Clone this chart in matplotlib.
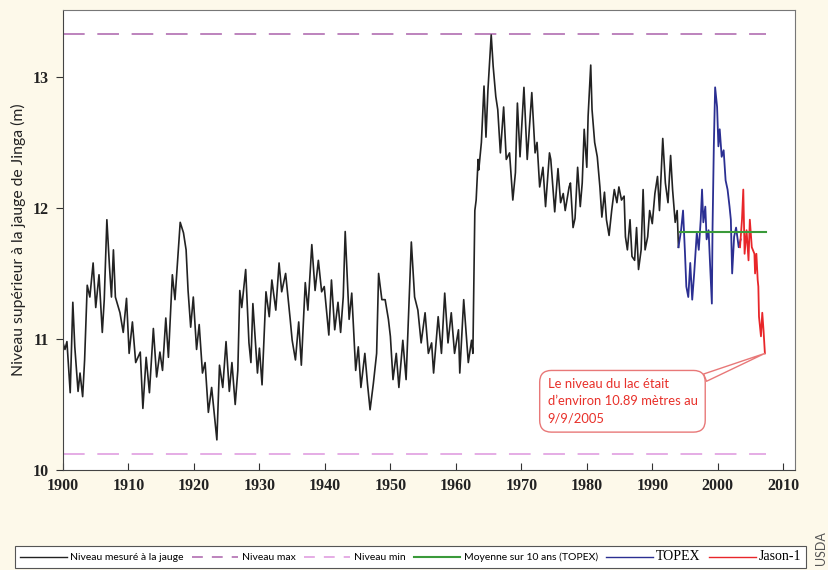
import matplotlib
matplotlib.use("Agg")
import matplotlib.pyplot as plt
from matplotlib.lines import Line2D

plt.rcParams['font.family'] = ['Lato', 'DejaVu Sans']

# niveau mesuré à la jauge
jauge_annees = [
    1900.0, 1900.3, 1900.6, 1901.1, 1901.5, 1901.8, 1902.3, 1902.6, 1903.0, 1903.3,
    1903.7, 1904.1, 1904.6, 1905.0, 1905.5, 1906.0, 1906.3, 1906.7, 1907.1, 1907.4,
    1907.7, 1908.0, 1908.7, 1909.2, 1909.7, 1910.1, 1910.6, 1911.1, 1911.8, 1912.2,
    1912.7, 1913.2, 1913.8, 1914.3, 1914.8, 1915.2, 1915.7, 1916.1, 1916.7, 1917.1,
    1917.9, 1918.4, 1918.8, 1919.1, 1919.5, 1919.9, 1920.4, 1920.8, 1921.3, 1921.7,
    1922.2, 1922.7, 1923.5, 1923.9, 1924.4, 1924.9, 1925.4, 1925.8, 1926.3, 1926.7,
    1927.0, 1927.3, 1927.9, 1928.4, 1928.7, 1929.0, 1929.7, 1930.0, 1930.4, 1931.0,
    1931.5, 1931.9, 1932.5, 1933.0, 1933.4, 1934.0, 1934.7, 1935.0, 1935.5, 1936.0,
    1936.4, 1937.0, 1937.4, 1938.0, 1938.5, 1939.0, 1939.5, 1939.9, 1940.6, 1941.0,
    1941.5, 1942.0, 1942.4, 1942.8, 1943.1, 1943.7, 1944.1, 1944.7, 1945.1, 1945.5,
    1946.1, 1946.5, 1946.9, 1947.4, 1947.9, 1948.2, 1948.7, 1949.2, 1949.7, 1950.0,
    1950.4, 1950.9, 1951.3, 1951.9, 1952.4, 1953.2, 1953.7, 1954.2, 1954.7, 1955.3,
    1955.8, 1956.3, 1956.6, 1957.3, 1957.8, 1958.3, 1958.8, 1959.3, 1959.8, 1960.4,
    1960.6, 1961.2, 1961.9, 1962.4, 1962.6, 1962.9, 1963.1, 1963.4, 1963.5, 1963.9,
    1964.3, 1964.6, 1964.9, 1965.4, 1965.7, 1966.1, 1966.4, 1966.8, 1967.3, 1967.7,
    1968.2, 1968.7, 1969.1, 1969.4, 1969.8, 1970.4, 1970.9, 1971.6, 1972.1, 1972.4,
    1972.8, 1973.3, 1973.7, 1974.3, 1974.5, 1975.1, 1975.6, 1976.0, 1976.4, 1976.7,
    1977.3, 1977.5, 1977.9, 1978.2, 1978.6, 1979.0, 1979.3, 1979.6, 1980.0, 1980.2,
    1980.6, 1980.8, 1981.2, 1981.6, 1982.0, 1982.3, 1982.7, 1983.0, 1983.4, 1983.8,
    1984.2, 1984.6, 1984.9, 1985.3, 1985.7, 1985.9, 1986.2, 1986.6, 1986.9, 1987.3,
    1987.6, 1987.9, 1988.3, 1988.6, 1988.9, 1989.3, 1989.6, 1990.0, 1990.4, 1990.8,
    1991.1, 1991.6, 1992.0, 1992.4, 1992.8, 1993.1, 1993.5, 1993.8, 1994.0,
]
jauge_niveaux = [
    10.97, 10.92, 10.98, 10.59, 11.28, 10.94, 10.60, 10.74, 10.56, 10.84,
    11.41, 11.32, 11.58, 11.24, 11.49, 11.05, 11.30, 11.91, 11.55, 11.32,
    11.68, 11.32, 11.20, 11.05, 11.31, 10.89, 11.13, 10.82, 10.90, 10.47,
    10.86, 10.59, 11.08, 10.71, 10.90, 10.76, 11.16, 10.86, 11.49, 11.30,
    11.89, 11.81, 11.68, 11.37, 11.09, 11.32, 10.92, 11.11, 10.74, 10.82,
    10.44, 10.63, 10.23, 10.80, 10.63, 10.98, 10.60, 10.82, 10.50, 10.76,
    11.37, 11.24, 11.53, 10.97, 10.82, 11.27, 10.74, 10.93, 10.65, 11.36,
    11.17, 11.45, 11.22, 11.58, 11.36, 11.50, 11.15, 10.99, 10.84, 11.13,
    10.80, 11.43, 11.22, 11.72, 11.37, 11.60, 11.36, 11.40, 11.03, 11.45,
    11.07, 11.28, 11.05, 11.32, 11.82, 11.15, 11.35, 10.76, 10.94, 10.63,
    10.89, 10.66, 10.46, 10.66, 10.89, 11.50, 11.30, 11.30, 11.15, 11.02,
    10.69, 10.89, 10.63, 10.99, 10.69, 11.74, 11.32, 11.22, 10.97, 11.20,
    10.89, 10.97, 10.74, 11.17, 10.89, 11.35, 10.97, 11.20, 10.89, 11.07,
    10.74, 11.30, 10.82, 10.99, 10.89, 11.98, 12.06, 12.37, 12.29, 12.50,
    12.93, 12.54, 12.90, 13.32, 13.08, 12.85, 12.75, 12.42, 12.77, 12.37,
    12.42, 12.06, 12.27, 12.80, 12.39, 12.92, 12.37, 12.88, 12.42, 12.50,
    12.16, 12.31, 12.01, 12.42, 12.37, 11.97, 12.30, 12.04, 12.11, 11.98,
    12.16, 12.19, 11.85, 11.92, 12.31, 12.01, 12.19, 12.60, 12.31, 12.70,
    13.09, 12.75, 12.50, 12.39, 12.16, 11.93, 12.12, 11.91, 11.79, 11.98,
    12.14, 12.04, 12.16, 12.06, 12.09, 11.78, 11.68, 11.91, 11.63, 11.60,
    11.85, 11.53, 11.68, 12.14, 11.68, 11.78, 11.98, 11.88, 12.11, 12.24,
    11.98, 12.53, 12.19, 12.04, 12.40, 12.14, 11.89, 11.98, 11.70,
]

# altimétrie TOPEX
topex_annees = [
    1994.0, 1994.4, 1994.7, 1995.0, 1995.2, 1995.5, 1995.8, 1996.1, 1996.4, 1996.8,
    1997.1, 1997.4, 1997.6, 1997.8, 1998.1, 1998.3, 1998.6, 1998.8, 1999.1, 1999.2,
    1999.4, 1999.6, 1999.9, 2000.1, 2000.3, 2000.6, 2000.9, 2001.2, 2001.5, 2001.8,
    2002.0, 2002.2, 2002.5, 2002.8, 2003.2, 2003.5,
]
topex_niveaux = [
    11.70, 11.83, 11.98, 11.65, 11.40, 11.32, 11.58, 11.30, 11.50, 11.81,
    11.68, 11.91, 12.14, 11.89, 12.01, 11.76, 11.83, 11.60, 11.27, 11.83,
    12.47, 12.92, 12.77, 12.47, 12.60, 12.39, 12.44, 12.21, 12.14, 12.01,
    11.91, 11.50, 11.78, 11.85, 11.70, 11.76,
]

# altimétrie Jason-1
jason_annees = [
    2003.4, 2003.7, 2003.9, 2004.1, 2004.4, 2004.7, 2004.9, 2005.2, 2005.6, 2005.7,
    2005.9, 2006.1, 2006.2, 2006.3, 2006.6, 2006.8, 2007.0, 2007.2,
]
jason_niveaux = [
    11.70, 11.91, 12.14, 11.65, 11.83, 11.60, 11.91, 11.70, 11.65, 11.50,
    11.65, 11.45, 11.40, 11.17, 11.02, 11.20, 11.06, 10.89,
]

niveau_max = 13.33
niveau_min = 10.12
moyenne_topex = 11.82
periode_lignes = [1900, 2007.3]
periode_moyenne = [1994.2, 2007.3]

fig = plt.figure(figsize=(8.29, 5.70), dpi=100, facecolor='#fdf9ea')
ax = fig.add_axes([0.076, 0.1754, 0.883, 0.807])
ax.set_facecolor('white')

ax.plot(periode_lignes, [niveau_max, niveau_max], color='#b77ab7', lw=1.3, dashes=(12, 7))
ax.plot(periode_lignes, [niveau_min, niveau_min], color='#e3a6e3', lw=1.3, dashes=(12, 7))
ax.plot(jauge_annees, jauge_niveaux, color='#222222', lw=1.2)
ax.plot(topex_annees, topex_niveaux, color='#2b2f92', lw=1.3)
ax.plot(jason_annees, jason_niveaux, color='#e8262a', lw=1.3)
ax.plot(periode_moyenne, [moyenne_topex, moyenne_topex], color='#3a9a3a', lw=1.5)

ax.set_xlim(1900, 2011.8)
ax.set_ylim(10, 13.51)
ax.set_xticks(range(1900, 2011, 10))
ax.set_yticks([10, 11, 12, 13])
ax.tick_params(axis='x', direction='in', length=5, pad=6, colors='#333333')
ax.tick_params(axis='y', direction='out', length=5, pad=5, colors='#333333')
for lab in ax.get_xticklabels() + ax.get_yticklabels():
    lab.set_fontfamily('Liberation Serif')
    lab.set_fontweight('bold')
    lab.set_fontsize(11.5)
    lab.set_color('#222222')
ax.spines['left'].set_color('#444444')
ax.spines['bottom'].set_color('#444444')
ax.spines['top'].set_color('#777777')
ax.spines['right'].set_color('#777777')
ax.set_ylabel('Niveau supérieur à la jauge de Jinga (m)', fontsize=11.3, color='#222222', labelpad=5)

# bulle d'annotation
ax.annotate("Le niveau du lac était\nd’environ 10.89 mètres au\n9/9/2005",
            xy=(jason_annees[-1], jason_niveaux[-1]), xytext=(1974.0, 10.70),
            textcoords='data', ha='left', va='top', fontsize=9.4, color='#e8302a',
            linespacing=1.5,
            bbox=dict(boxstyle='round,pad=0.6,rounding_size=0.9', fc='white', ec='#e87878', lw=1.0),
            arrowprops=dict(arrowstyle='wedge,tail_width=0.6,shrink_factor=0.5', fc='white',
                            ec='#e87878', lw=1.0, relpos=(0.95, 0.88), shrinkA=0, shrinkB=0))

handles = [
    Line2D([], [], color='#222222', lw=1.0),
    Line2D([], [], color='#b77ab7', lw=1.3, dashes=(6, 5)),
    Line2D([], [], color='#e3a6e3', lw=1.3, dashes=(6, 5)),
    Line2D([], [], color='#3a9a3a', lw=1.5),
    Line2D([], [], color='#2b2f92', lw=1.0),
    Line2D([], [], color='#e8262a', lw=1.0),
]
labels = ['Niveau mesuré à la jauge', 'Niveau max', 'Niveau min',
          'Moyenne sur 10 ans (TOPEX)', 'TOPEX', 'Jason-1']
leg = fig.legend(handles, labels, loc='lower left', ncol=6, mode='expand',
                 bbox_to_anchor=(15 / 829, 2 / 570, 791 / 829, 25 / 570), borderaxespad=0,
                 fontsize=7.5, handlelength=4.5, handletextpad=0.3, columnspacing=1.0,
                 borderpad=0.45, fancybox=False, edgecolor='#555555', framealpha=1)
leg.get_frame().set_linewidth(0.8)
for t in leg.get_texts()[4:]:
    t.set_fontfamily('Liberation Serif')
    t.set_fontsize(10)

fig.text(0.997, 0.008, 'USDA', rotation=90, fontsize=9, color='#555555', ha='right', va='bottom')

plt.savefig('out.png', dpi=100, facecolor=fig.get_facecolor())
